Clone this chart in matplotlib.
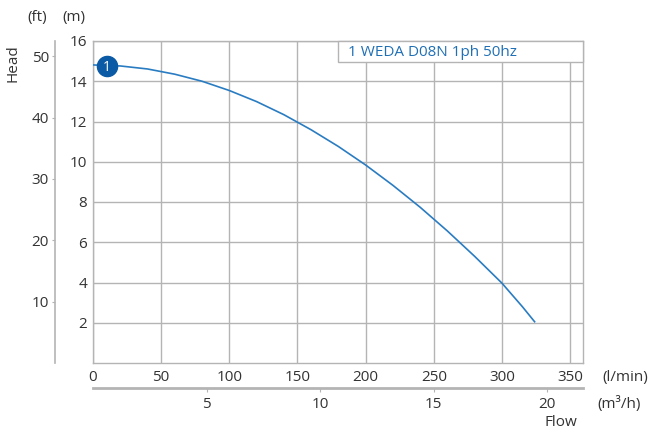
import matplotlib.pyplot as plt
from matplotlib.patches import Rectangle

plt.rcParams['font.family'] = ['Open Sans', 'DejaVu Sans']

# ---- data ----
flow_lpm = [0, 20, 40, 60, 80, 100, 120, 140, 160, 180, 200, 220, 240, 260, 280, 300, 315, 324]
head_m = [14.81, 14.76, 14.61, 14.35, 14.0, 13.54, 12.99, 12.34, 11.59, 10.76, 9.84,
          8.83, 7.74, 6.56, 5.3, 3.97, 2.8, 2.05]

curve_name = "1 WEDA D08N 1ph 50hz"
marker_flow = 10
marker_head = 14.78

m_ticks = [2, 4, 6, 8, 10, 12, 14, 16]
ft_ticks = [10, 20, 30, 40, 50]
lpm_ticks = [0, 50, 100, 150, 200, 250, 300, 350]
m3h_ticks = [5, 10, 15, 20]

TXT = '#333333'
GRID = '#b4b4b4'
BLUE = '#2a7cc2'
DARKBLUE = '#0b5aa5'
PX = 72 / 100  # points per pixel

fig = plt.figure(figsize=(6.51, 4.33), dpi=100)
ax = fig.add_axes([93/651, 1 - 363/433, 490/651, 322/433])

ax.set_xlim(0, 359.5)
ax.set_ylim(0, 16)
ax.set_xticks(lpm_ticks)
ax.set_yticks(m_ticks)
ax.grid(True, color=GRID, linewidth=1.0)
ax.set_axisbelow(True)
ax.tick_params(axis='both', length=0, labelsize=11, labelcolor=TXT)
ax.tick_params(axis='y', pad=6 * PX)
ax.tick_params(axis='x', pad=7 * PX)
for s in ax.spines.values():
    s.set_color(GRID)
    s.set_linewidth(1.0)

ax.plot(flow_lpm, head_m, color=BLUE, linewidth=1.2, zorder=3)
ax.plot(marker_flow, marker_head, 'o', color=DARKBLUE, markersize=14.5, zorder=4)
ax.text(marker_flow, marker_head, '1', color='white', fontsize=10, ha='center',
        va='center_baseline', zorder=5)

# legend box in upper right
box = Rectangle((338/651, 1 - 62/433), 245/651, 21/433, transform=fig.transFigure,
                facecolor='white', edgecolor=GRID, linewidth=1.0, zorder=6)
fig.patches.append(box)
fig.text(348/651, 1 - 52/433, curve_name, color='#1f6fb5', fontsize=11, va='center',
         zorder=7)

# feet axis on the left
ft = ax.secondary_yaxis('left', functions=(lambda m: m / 0.3048, lambda f: f * 0.3048))
ft.spines['left'].set_position(('outward', 38 * PX))
ft.spines['left'].set_color(GRID)
ft.spines['left'].set_linewidth(1.2)
ft.set_yticks(ft_ticks)
ft.tick_params(length=3 * PX, color=GRID, labelsize=11, labelcolor=TXT, pad=3 * PX)

# m3/h axis at the bottom
q = ax.secondary_xaxis('bottom', functions=(lambda l: l * 0.06, lambda c: c / 0.06))
q.spines['bottom'].set_position(('outward', 25 * PX))
q.spines['bottom'].set_color(GRID)
q.spines['bottom'].set_linewidth(2)
q.set_xticks(m3h_ticks)
q.tick_params(length=4 * PX, color=GRID, labelsize=11, labelcolor=TXT, pad=5 * PX)

# unit labels
fig.text(37/651, 1 - 17/433, '(ft)', color=TXT, fontsize=11, ha='center', va='center')
fig.text(74/651, 1 - 17/433, '(m)', color=TXT, fontsize=11, ha='center', va='center')
fig.text(13/651, 1 - 63/433, 'Head', color=TXT, fontsize=11, ha='center', va='center',
         rotation=90)
fig.text(625/651, 1 - 377/433, '(l/min)', color=TXT, fontsize=11, ha='center', va='center')
fig.text(619/651, 1 - 404/433, '(m³/h)', color=TXT, fontsize=11, ha='center', va='center')
fig.text(561/651, 1 - 422/433, 'Flow', color=TXT, fontsize=11, ha='center', va='center')

fig.savefig('out.png', dpi=100)
